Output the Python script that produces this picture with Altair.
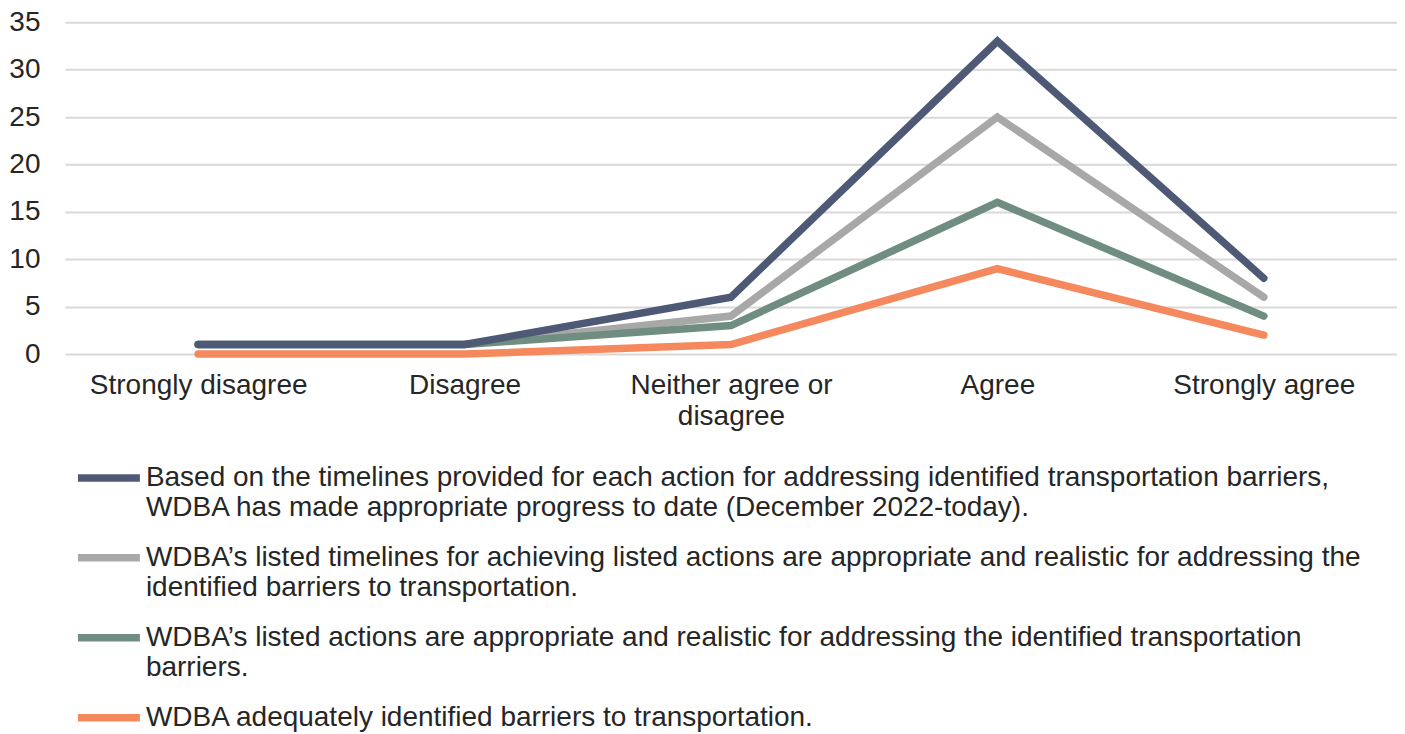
import altair as alt
import pandas as pd
import json

categories = ["Strongly disagree", "Disagree", "Neither agree or disagree", "Agree", "Strongly agree"]

series_names = [
    "Based on the timelines provided for each action for addressing identified transportation barriers, WDBA has made appropriate progress to date (December 2022-today).",
    "WDBA’s listed timelines for achieving listed actions are appropriate and realistic for addressing the identified barriers to transportation.",
    "WDBA’s listed actions are appropriate and realistic for addressing the identified transportation barriers.",
    "WDBA adequately identified barriers to transportation.",
]
legend_lines = [
    ["Based on the timelines provided for each action for addressing identified transportation barriers,",
     "WDBA has made appropriate progress to date (December 2022-today)."],
    ["WDBA’s listed timelines for achieving listed actions are appropriate and realistic for addressing the",
     "identified barriers to transportation."],
    ["WDBA’s listed actions are appropriate and realistic for addressing the identified transportation",
     "barriers."],
    ["WDBA adequately identified barriers to transportation."],
]

progress_values = [1, 1, 6, 33, 8]
timelines_values = [1, 1, 4, 25, 6]
actions_values = [1, 1, 3, 16, 4]
barriers_values = [0, 0, 1, 9, 2]

colors = ["#4e5976", "#a8a8a8", "#6f8e81", "#f5895d"]

rows = []
for name, vals in zip(series_names, [progress_values, timelines_values, actions_values, barriers_values]):
    for c, v in zip(categories, vals):
        rows.append({"category": c, "value": v, "series": name})
df = pd.DataFrame(rows)

FONT = "Liberation Sans"
TEXT = "#262626"
FS = 28

label_expr = ""
for name, lines in zip(series_names, legend_lines):
    label_expr += f"datum.label == {json.dumps(name)} ? {json.dumps(lines)} : "
label_expr += "datum.label"

x_label_expr = "datum.label == 'Neither agree or disagree' ? ['Neither agree or', 'disagree'] : datum.label"

base = alt.Chart(df).mark_line(strokeWidth=7.5, strokeCap="round", strokeJoin="miter").encode(
    x=alt.X("category:N", sort=categories, scale=alt.Scale(type="point", padding=0.5),
            axis=alt.Axis(title=None, domain=False, ticks=False, grid=False, labelAngle=0,
                          labelFontSize=FS, labelFont=FONT, labelColor=TEXT, labelPadding=18,
                          labelLineHeight=31, labelExpr=x_label_expr, labelLimit=0)),
    y=alt.Y("value:Q", scale=alt.Scale(domain=[0, 35], nice=False),
            axis=alt.Axis(title=None, domain=False, ticks=False, values=[0, 5, 10, 15, 20, 25, 30, 35],
                          grid=True, gridColor="#d9d9d9", gridWidth=2,
                          labelFontSize=FS, labelFont=FONT, labelColor=TEXT, labelPadding=25)),
    color=alt.Color("series:N", sort=series_names,
                    scale=alt.Scale(domain=series_names, range=colors),
                    legend=alt.Legend(orient="none", legendX=30, legendY=442, direction="vertical",
                                      title=None, symbolType="M-3.1,0H3.1", symbolSize=400,
                                      symbolStrokeWidth=7.5, symbolFillColor="transparent",
                                      labelFontSize=FS, labelFont=FONT, labelColor=TEXT,
                                      labelExpr=label_expr, labelLimit=0, labelOffset=23,
                                      labelBaseline="middle", rowPadding=21)),
)

draw_order = [series_names[1], series_names[2], series_names[0], series_names[3]]
layers = [base.transform_filter(alt.datum.series == s) for s in draw_order]

chart = alt.layer(*layers).properties(
    width=1333, height=332,
    padding={"left": 0, "top": 0, "right": 0, "bottom": 0},
).configure_view(stroke=None)

chart.save("out.html", embed_options={"renderer": "svg", "actions": False})
